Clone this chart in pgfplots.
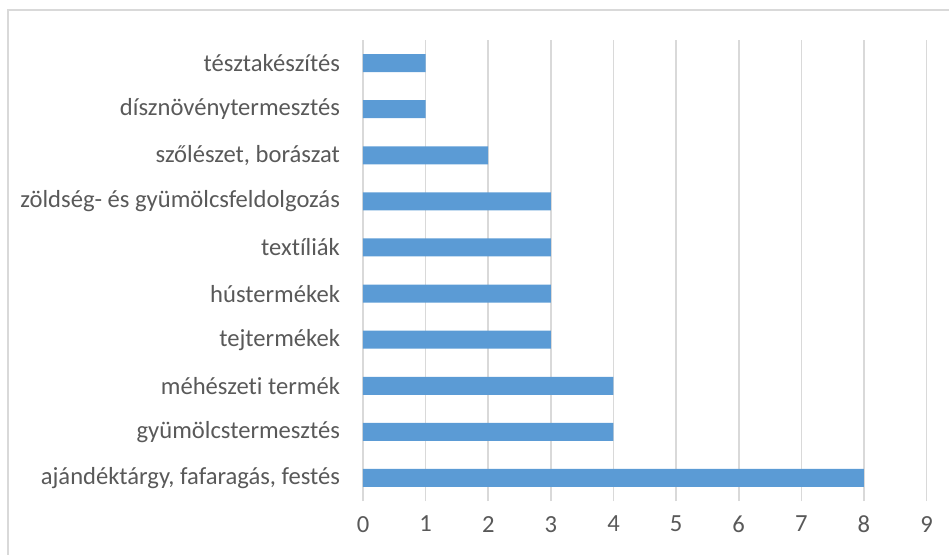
\documentclass[border=0pt]{standalone}
\usepackage{fontspec}
\setmainfont{Carlito}[Ligatures={NoCommon}]
\usepackage{pgfplots}
\pgfplotsset{compat=1.18}
\definecolor{barblue}{HTML}{5B9BD5}
\definecolor{gridgray}{HTML}{D9D9D9}
\definecolor{labelgray}{HTML}{595959}
\begin{document}
\begin{tikzpicture}
\path[use as bounding box] (0,0) rectangle (474.5pt,277pt);
\begin{scope}
\clip (0,0) rectangle (474.5pt,277pt);
\draw[gridgray, line width=1pt] (4pt,-10pt) rectangle (485pt,272pt);
\end{scope}
\begin{axis}[
    at={(181.5pt,26.5pt)}, anchor=south west,
    scale only axis,
    width=281.8pt, height=230.5pt,
    xbar,
    bar width=9pt,
    xmin=0, xmax=9,
    ymin=-0.5, ymax=9.5,
    xtick={0,...,9},
    ytick={0,...,9},
    yticklabels={
        {ajándéktárgy, fafaragás, festés},
        gyümölcstermesztés,
        méhészeti termék,
        tejtermékek,
        hústermékek,
        textíliák,
        {zöldség- és gyümölcsfeldolgozás},
        {szőlészet, borászat},
        dísznövénytermesztés,
        tésztakészítés},
    xmajorgrids,
    grid style={gridgray, line width=0.8pt},
    axis line style={draw=none},
    major tick length=0pt,
    tick label style={font=\fontsize{12.3}{14}\selectfont, text=labelgray},
    /pgf/number format/assume math mode=true,
    xticklabel style={yshift=-4pt},
    yticklabel style={xshift=-8pt},
]
\addplot[fill=barblue, draw=none] coordinates {
    (8,0) (4,1) (4,2) (3,3) (3,4) (3,5) (3,6) (2,7) (1,8) (1,9)
};
\end{axis}
\end{tikzpicture}
\end{document}
